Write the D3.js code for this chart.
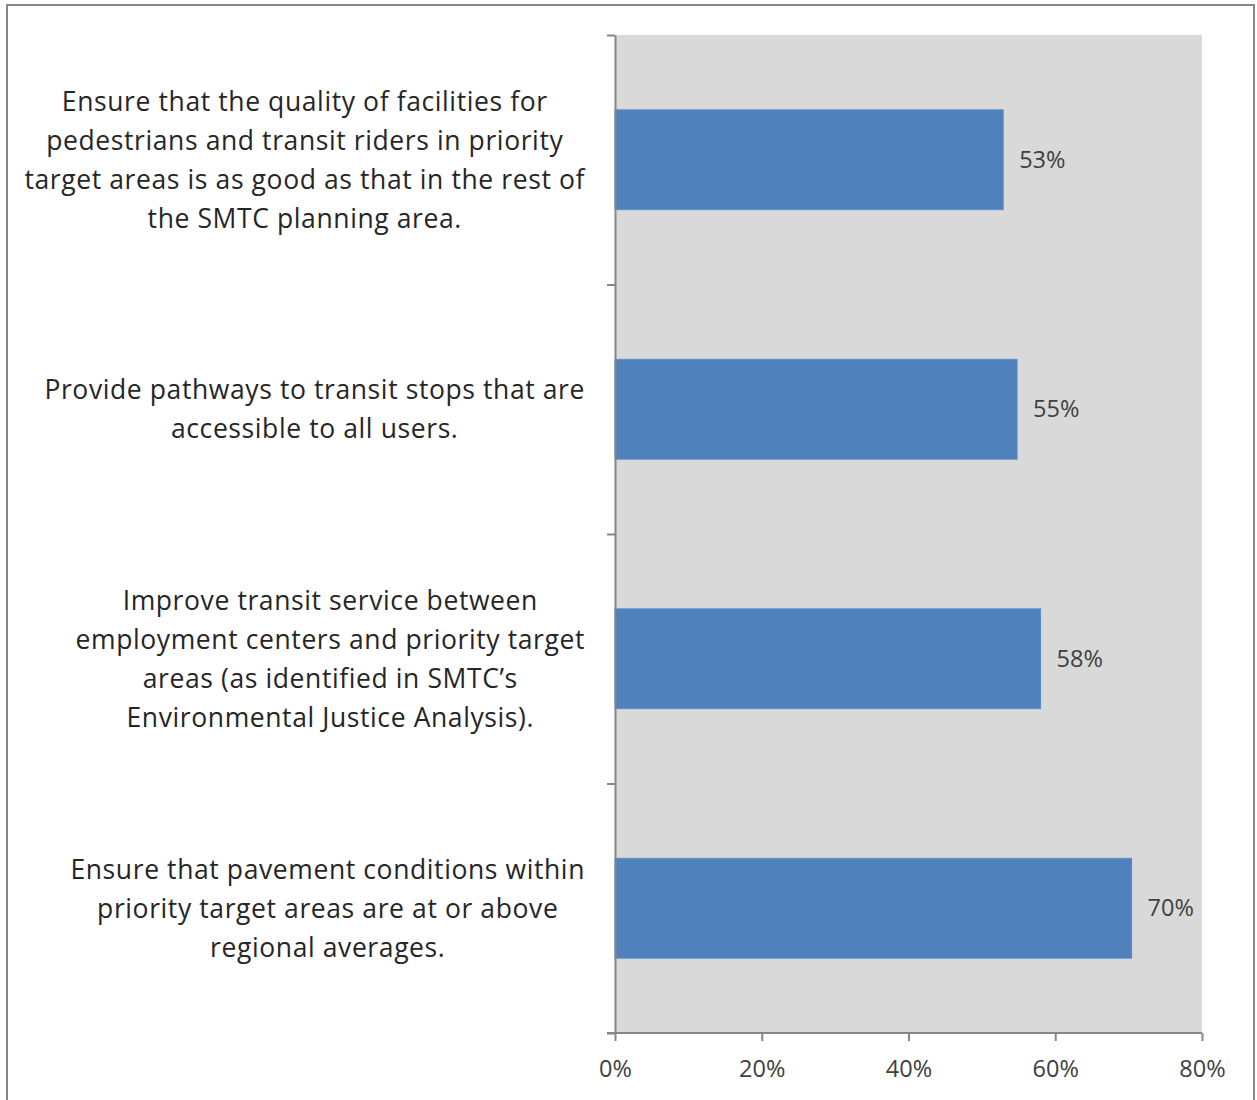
<!DOCTYPE html>
<html>
<head>
<meta charset="utf-8">
<script src="https://cdn.jsdelivr.net/npm/d3@7"></script>
<style>
  html, body { margin: 0; padding: 0; background: #fff; }
  svg { display: block; }
</style>
</head>
<body>
<svg id="chart" width="1257" height="1100"></svg>
<script>
// Survey goals (wrapped as printed) and share of respondents
const goalLines = [
  ["Ensure that the quality of facilities for",
   "pedestrians and transit riders in priority",
   "target areas is as good as that in the rest of",
   "the SMTC planning area."],
  ["Provide pathways to transit stops that are",
   "accessible to all users."],
  ["Improve transit service between",
   "employment centers and priority target",
   "areas (as identified in SMTC\u2019s",
   "Environmental Justice Analysis)."],
  ["Ensure that pavement conditions within",
   "priority target areas are at or above",
   "regional averages."]
];
const shares = [0.529, 0.548, 0.580, 0.704];
const xTicks = [0, 0.2, 0.4, 0.6, 0.8];

const svg = d3.select("#chart");
const plot = { left: 615, right: 1202, top: 35, bottom: 1033 };
const axisColor = "#868686";
const font = "'Open Sans', 'Noto Sans', sans-serif";

// outer frame
svg.append("rect")
  .attr("x", 7).attr("y", 5)
  .attr("width", 1247).attr("height", 1110)
  .attr("fill", "#fff")
  .attr("stroke", axisColor).attr("stroke-width", 2);

const x = d3.scaleLinear().domain([0, 0.8]).range([plot.left, plot.right]);
const y = d3.scaleBand()
  .domain(d3.range(goalLines.length))
  .range([plot.top, plot.bottom])
  .paddingInner(0.6).paddingOuter(0.3);

// plot background
svg.append("rect")
  .attr("x", plot.left).attr("y", plot.top)
  .attr("width", plot.right - plot.left).attr("height", plot.bottom - plot.top)
  .attr("fill", "#d9d9d9");

// bars
svg.append("g").selectAll("rect")
  .data(shares)
  .join("rect")
  .attr("x", x(0))
  .attr("y", (d, i) => y(i))
  .attr("width", d => x(d) - x(0))
  .attr("height", y.bandwidth())
  .attr("fill", "#4f81bd")
  .attr("stroke", "#5a8bc8").attr("stroke-width", 1);

// value labels
svg.append("g").selectAll("text")
  .data(shares)
  .join("text")
  .attr("x", d => x(d) + 16)
  .attr("y", (d, i) => y(i) + y.bandwidth() / 2)
  .attr("dy", "0.35em")
  .attr("font-family", font).attr("font-size", 23.5)
  .attr("fill", "#404040")
  .text(d => d3.format(".0%")(d));

// x axis
const xAxis = svg.append("g")
  .attr("transform", `translate(0,${plot.bottom})`)
  .call(d3.axisBottom(x).tickValues(xTicks).tickFormat(d3.format(".0%"))
    .tickSize(8).tickSizeOuter(0).tickPadding(19));
xAxis.select(".domain").attr("stroke", axisColor).attr("stroke-width", 2)
  .attr("d", `M${plot.left - 8},0H${plot.right}`);
xAxis.selectAll(".tick line").attr("stroke", axisColor).attr("stroke-width", 2);
xAxis.selectAll(".tick text")
  .attr("font-family", font).attr("font-size", 23.5).attr("fill", "#404040");

// y axis: line with ticks at category boundaries
const yEdges = d3.scaleLinear().domain([0, goalLines.length]).range([plot.top, plot.bottom]);
const yAxis = svg.append("g").attr("transform", `translate(${plot.left},0)`)
  .call(d3.axisLeft(yEdges).tickValues(d3.range(goalLines.length + 1))
    .tickFormat("").tickSize(8).tickSizeOuter(0));
yAxis.select(".domain").attr("stroke", axisColor).attr("stroke-width", 2);
yAxis.selectAll(".tick line").attr("stroke", axisColor).attr("stroke-width", 2);

// category labels: centred blocks, right edge aligned near the axis
const labelRight = 585;
const lineH = 39;
goalLines.forEach((lines, i) => {
  const cy = y(i) + y.bandwidth() / 2;
  const g = svg.append("g");
  const texts = g.selectAll("text")
    .data(lines)
    .join("text")
    .attr("y", (d, k) => cy + (k - (lines.length - 1) / 2) * lineH)
    .attr("dy", "0.35em")
    .attr("text-anchor", "middle")
    .attr("font-family", font).attr("font-size", 26.5)
    .attr("letter-spacing", 0.6)
    .attr("fill", "#262626")
    .text(d => d);
  let maxW = 0;
  texts.each(function () { maxW = Math.max(maxW, this.getComputedTextLength()); });
  texts.attr("x", labelRight - maxW / 2);
});
</script>
</body>
</html>
